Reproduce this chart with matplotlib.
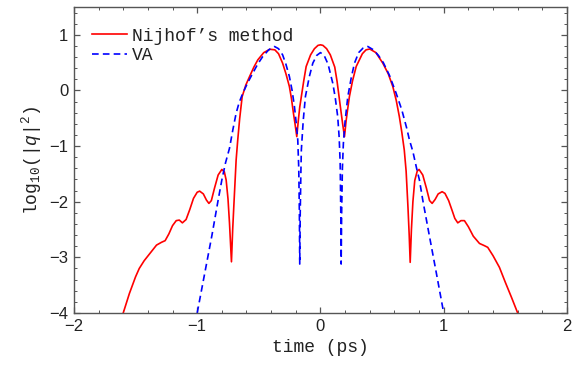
import matplotlib
matplotlib.use("Agg")
import matplotlib.pyplot as plt
from matplotlib.ticker import MultipleLocator

# Nijhof's method (red, solid)
nij_t = [-1.60, -1.55, -1.50, -1.47, -1.43, -1.38, -1.33, -1.29, -1.26, -1.23,
         -1.20, -1.17, -1.145, -1.12, -1.09, -1.06, -1.03, -1.00, -0.98, -0.95,
         -0.925, -0.905, -0.885, -0.86, -0.83, -0.80, -0.78, -0.765, -0.75, -0.738,
         -0.722, -0.712, -0.703, -0.684, -0.671, -0.655, -0.635, -0.605, -0.575, -0.54,
         -0.508, -0.46, -0.41, -0.37, -0.34, -0.307, -0.28, -0.252, -0.235, -0.219,
         -0.205, -0.192, -0.18, -0.168, -0.155, -0.135, -0.116, -0.08, -0.049, -0.02,
         0.00, 0.02, 0.05, 0.08, 0.116, 0.135, 0.155, 0.168, 0.18, 0.195,
         0.208, 0.22, 0.235, 0.26, 0.29, 0.34, 0.37, 0.40, 0.45, 0.506,
         0.55, 0.587, 0.615, 0.64, 0.66, 0.68, 0.695, 0.71, 0.72, 0.728,
         0.738, 0.75, 0.765, 0.785, 0.80, 0.83, 0.86, 0.885, 0.906, 0.93,
         0.955, 0.987, 1.01, 1.04, 1.07, 1.09, 1.114, 1.14, 1.168, 1.20,
         1.24, 1.29, 1.33, 1.357, 1.40, 1.452, 1.50, 1.55, 1.60]
nij_y = [-4.00, -3.65, -3.35, -3.20, -3.06, -2.92, -2.78, -2.73, -2.70, -2.58,
         -2.43, -2.34, -2.33, -2.38, -2.32, -2.14, -1.94, -1.83, -1.81, -1.86,
         -1.97, -2.03, -1.98, -1.76, -1.52, -1.42, -1.46, -1.61, -1.95, -2.38,
         -3.08, -2.50, -2.09, -1.25, -0.89, -0.50, -0.11, 0.10, 0.25, 0.42,
         0.55, 0.68, 0.74, 0.73, 0.66, 0.49, 0.30, 0.07, -0.15, -0.41,
         -0.62, -0.83, -0.55, -0.30, -0.11, 0.18, 0.43, 0.64, 0.75, 0.81,
         0.82, 0.81, 0.75, 0.64, 0.42, 0.16, -0.18, -0.40, -0.60, -0.83,
         -0.55, -0.35, -0.11, 0.17, 0.43, 0.66, 0.73, 0.745, 0.68, 0.49,
         0.30, 0.07, -0.18, -0.47, -0.75, -1.07, -1.45, -2.10, -2.60, -3.09,
         -2.50, -2.00, -1.62, -1.45, -1.42, -1.52, -1.76, -1.98, -2.03, -1.96,
         -1.86, -1.82, -1.85, -1.98, -2.17, -2.30, -2.38, -2.34, -2.34, -2.45,
         -2.62, -2.75, -2.79, -2.82, -2.97, -3.18, -3.45, -3.72, -4.00]

# VA (blue, dashed)
va_t = [-1.00, -0.94, -0.88, -0.83, -0.80, -0.77, -0.738, -0.71, -0.684, -0.66,
        -0.63, -0.59, -0.549, -0.51, -0.468, -0.42, -0.373, -0.34, -0.307, -0.28,
        -0.252, -0.23, -0.211, -0.195, -0.184, -0.176, -0.171, -0.168, -0.164, -0.159,
        -0.155, -0.14, -0.122, -0.09, -0.062, -0.03, 0.00, 0.03, 0.062, 0.10,
        0.12, 0.14, 0.152, 0.16, 0.165, 0.168, 0.172, 0.178, 0.186, 0.20,
        0.222, 0.25, 0.276, 0.31, 0.345, 0.384, 0.43, 0.47, 0.51, 0.56,
        0.614, 0.66, 0.70, 0.722, 0.75, 0.78, 0.803, 0.83, 0.88, 0.94, 1.00]
va_y = [-4.00, -3.30, -2.60, -1.97, -1.61, -1.30, -1.04, -0.70, -0.41, -0.22,
        -0.05, 0.14, 0.31, 0.47, 0.61, 0.73, 0.79, 0.75, 0.64, 0.47,
        0.25, 0.00, -0.29, -0.62, -0.89, -1.40, -2.20, -3.12, -2.20, -1.50,
        -1.07, -0.55, -0.11, 0.25, 0.49, 0.63, 0.68, 0.63, 0.47, 0.13,
        -0.13, -0.47, -0.85, -1.30, -2.20, -3.12, -2.20, -1.40, -0.95, -0.55,
        -0.11, 0.23, 0.49, 0.68, 0.76, 0.79, 0.73, 0.63, 0.50, 0.27,
        -0.05, -0.35, -0.68, -0.89, -1.10, -1.40, -1.61, -1.97, -2.57, -3.28, -4.00]

plt.rcParams['mathtext.fontset'] = 'custom'
plt.rcParams['mathtext.rm'] = 'Liberation Mono'
plt.rcParams['mathtext.it'] = 'Liberation Mono:italic'

fig = plt.figure(figsize=(5.73, 3.68), dpi=100)
ax = fig.add_axes([0.129, 0.1495, 0.8605, 0.8315])

ax.plot(nij_t, nij_y, color='#ff0000', linewidth=1.2, label="Nijhof\u2019s method")
ax.plot(va_t, va_y, color='#0000ff', linewidth=1.2, linestyle=(0, (4, 2.5)), label="VA")

ax.set_xlim(-2, 2)
ax.set_ylim(-4, 1.5)
ax.xaxis.set_major_locator(MultipleLocator(1))
ax.xaxis.set_minor_locator(MultipleLocator(0.2))
ax.yaxis.set_major_locator(MultipleLocator(1))
ax.yaxis.set_minor_locator(MultipleLocator(0.2))

frame = '#555555'
for s in ax.spines.values():
    s.set_color(frame)
    s.set_linewidth(1.0)
ax.tick_params(which='both', direction='in', top=True, right=True, color=frame,
               labelsize=12, labelcolor='#222222', pad=4)
ax.tick_params(which='major', length=4.5, width=0.9)
ax.tick_params(which='minor', length=2.5, width=0.7)
for lab in ax.get_xticklabels() + ax.get_yticklabels():
    lab.set_family('Liberation Sans')

ax.set_xlabel("time (ps)", family='Liberation Mono', fontsize=13, color='#222222')
ax.set_ylabel(r"$\mathrm{log}_{10}(|q|^{2})$", fontsize=13, color='#222222')

# legend sits a little inside the frame, no box
leg = ax.legend(loc='upper left', bbox_to_anchor=(0.012, 0.974), frameon=False,
                handlelength=1.9, handletextpad=0.3, labelspacing=0.15, borderaxespad=0.3,
                prop={'family': 'Liberation Mono', 'size': 13})
for t in leg.get_texts():
    t.set_color('#222222')

fig.savefig("out.png", dpi=100)
